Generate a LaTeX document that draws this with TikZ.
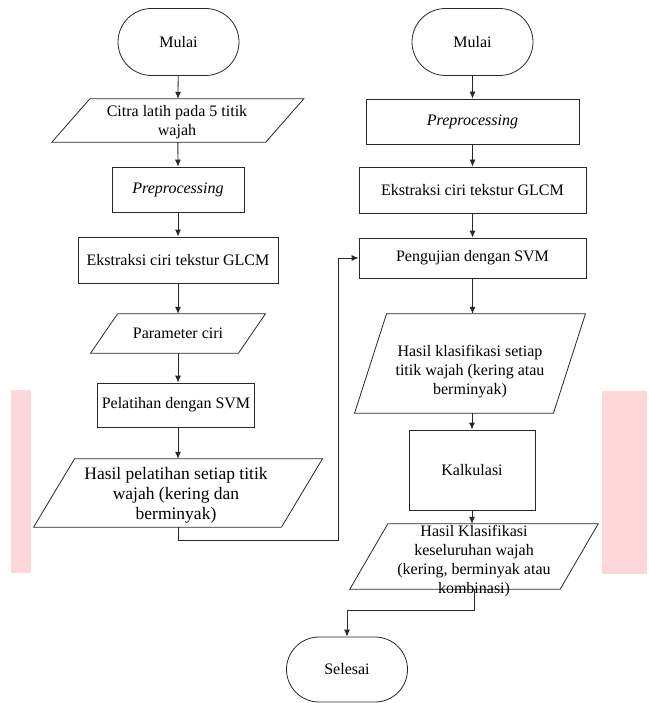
\documentclass[tikz,border=0pt]{standalone}
\usepackage{fontspec}
\setmainfont{Liberation Serif}
\usetikzlibrary{shapes.misc,arrows.meta}
\definecolor{pinkbar}{RGB}{255,214,218}
\definecolor{ln}{RGB}{40,40,40}
\tikzset{
  base/.style={draw=ln, line width=0.8pt, inner sep=2pt, align=center,
    font=\fontsize{16}{19.5}\selectfont},
  term/.style={base, rounded rectangle, minimum width=125pt, minimum height=67pt},
  proc/.style={base, rectangle},
  pshape/.style={rectangle, inner sep=0pt},
  ptext/.style={align=center, inner sep=0pt, font=\fontsize{16}{19.5}\selectfont},
  conn/.style={draw=ln, line width=0.8pt, -{Latex[length=7pt,width=6pt]}},
  wire/.style={draw=ln, line width=0.8pt}
}
\newcommand\pgram[2]{% node name, slant
  \draw[wire] ([xshift=#2*0.5pt]#1.north west) -- ([xshift=#2*0.5pt]#1.north east)
    -- ([xshift=-#2*0.5pt]#1.south east) -- ([xshift=-#2*0.5pt]#1.south west) -- cycle;}
\begin{document}
\begin{tikzpicture}[x=1pt,y=-1pt]
\useasboundingbox (0,0) rectangle (648,703);
% pink bars
\fill[pinkbar] (11,390) rectangle (31,573);
\fill[pinkbar] (602,391) rectangle (647,574);

% ---------- left column ----------
\node[term] (m1) at (178.5,42) {Mulai};
\node[pshape, minimum width=213.5pt, minimum height=43pt] (citra) at (177.8,120.5) {};
\pgram{citra}{38}
\node[ptext] (citrat) at (177,122) {Citra latih pada 5 titik\\wajah};
\node[proc, minimum width=132pt, minimum height=45pt] (pre1) at (178,189.5) {\itshape Preprocessing};
\node[proc, minimum width=200pt, minimum height=46pt] (eks1) at (178,260) {Ekstraksi ciri tekstur GLCM};
\node[pshape, minimum width=147.5pt, minimum height=39pt] (param) at (178,333.5) {};
\pgram{param}{27}
\node[ptext] (paramt) at (178,333.5) {Parameter ciri};
\node[proc, minimum width=157pt, minimum height=44pt] (pel) at (176,405) {Pelatihan dengan SVM};
\node[pshape, minimum width=247.5pt, minimum height=68pt] (hp) at (178,493) {};
\pgram{hp}{41}
\node[ptext, font=\fontsize{17.5}{20}\selectfont] (hpt) at (176,495) {Hasil pelatihan setiap titik\\wajah (kering dan\\berminyak)};

% ---------- right column ----------
\node[term] (m2) at (472.5,42) {Mulai};
\node[proc, minimum width=213pt, minimum height=45pt] (pre2) at (472.5,121.5) {\itshape Preprocessing};
\node[proc, minimum width=227pt, minimum height=46pt] (eks2) at (472.5,190) {Ekstraksi ciri tekstur GLCM};
\node[proc, minimum width=227pt, minimum height=40pt] (peng) at (472.5,258) {Pengujian dengan SVM};
\node[pshape, minimum width=198.5pt, minimum height=99pt] (hk1) at (470,363.5) {};
\pgram{hk1}{32}
\node[ptext, font=\fontsize{16}{19}\selectfont] (hk1t) at (470,372) {Hasil klasifikasi setiap\\titik wajah (kering atau\\berminyak)};
\node[proc, minimum width=126pt, minimum height=80pt] (kal) at (472,470) {Kalkulasi};
\node[pshape, minimum width=210pt, minimum height=65pt] (hk2) at (474,556.5) {};
\pgram{hk2}{38}
\node[ptext, font=\fontsize{16}{19}\selectfont] (hk2t) at (474,561) {Hasil Klasifikasi\\keseluruhan wajah\\(kering, berminyak atau\\kombinasi)};
\node[term, minimum height=65pt] (sel) at (347,669.5) {Selesai};

% ---------- connectors ----------
\draw[conn] (m1) -- (citra);
\draw[conn] (citra) -- (pre1);
\draw[conn] (pre1) -- (eks1);
\draw[conn] (eks1) -- (param);
\draw[conn] (param) -- (pel.north -| param.north);
\draw[conn] (pel.south -| param.south) -- (hp);
\coordinate (c1) at (338,540);
\draw[conn] (hp.south) |- (c1) |- (peng.west);

\draw[conn] (m2) -- (pre2);
\draw[conn] (pre2) -- (eks2);
\draw[conn] (eks2) -- (peng);
\draw[conn] (peng) -- (hk1.north -| peng.south);
\draw[conn] (hk1.south -| kal.north) -- (kal);
\draw[conn] (kal.south) -- (hk2.north -| kal.south);
\coordinate (c2) at (347,610);
\draw[conn] (hk2.south) |- (c2) -- (sel.north);
\end{tikzpicture}
\end{document}
